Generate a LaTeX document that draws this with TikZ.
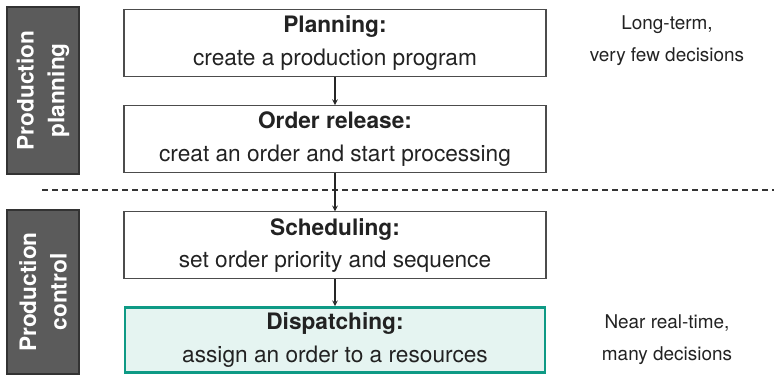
\documentclass[tikz,border=0pt]{standalone}
\usepackage{fontspec}
\setmainfont{TeX Gyre Heros}
\usetikzlibrary{positioning}
\definecolor{stepgray}{HTML}{222222}
\definecolor{phasegray}{HTML}{5B5B5B}
\definecolor{dispteal}{HTML}{0E9A85}
\definecolor{dispfill}{HTML}{E5F4F1}
\tikzset{
	stepbox/.style={draw=black!70, rectangle, line width=0.9pt, minimum width=316.5pt, minimum height=50.25pt, align=center, text=stepgray, inner sep=0pt, font=\fontsize{17}{24.5}\selectfont},
	activebox/.style={stepbox, draw=dispteal, line width=2.2pt, fill=dispfill, minimum width=315pt, minimum height=48.5pt},
	phase/.style={rectangle, draw=black!80, line width=0.8pt, fill=phasegray, minimum height=54pt, text=white, align=center, inner sep=0pt, rotate=90, font=\fontsize{17}{23}\selectfont\bfseries},
	horizon/.style={align=center, text=stepgray, font=\fontsize{14.2}{24}\selectfont},
}

\begin{document}
\begin{tikzpicture}[x=0.75pt, y=-0.75pt]
	\useasboundingbox (0,0) rectangle (774,377);
	
	\node (planning) [stepbox] at (335,43) {\textbf{Planning:}\\create a production program};
	\node (release) [stepbox, below=21pt of planning] {\textbf{Order release:}\\creat an order and start processing};
	\node (scheduling) [stepbox, below=28.5pt of release] {\textbf{Scheduling:}\\set order priority and sequence};
	\node (dispatching) [activebox, below=20pt of scheduling] {\textbf{Dispatching:}\\assign an order to a resources};
	
	\node (pplan) [phase, minimum width=125.25pt] at (43,90.5) {Production\\planning};
	\node (pctrl) [phase, minimum width=123pt] at (43,292) {Production\\control};
	
	\node (longterm) [horizon] at (667,41) {Long-term,\\very few decisions};
	\node (realtime) [horizon] at (667,340) {Near real-time,\\many decisions};
	
	\coordinate (sepL) at (42,190);
	\coordinate (sepR) at (774,190);
	\draw [black!80, line width=0.8pt, dash pattern=on 4.5pt off 3pt] (sepL) -- (sepR);
	
	\begin{scope}[line width=0.9pt, black!85, ->, >=stealth]
		\draw (planning) -- (release);
		\draw (release) -- (scheduling);
		\draw (scheduling) -- (dispatching);
	\end{scope}
	
\end{tikzpicture}
\end{document}
